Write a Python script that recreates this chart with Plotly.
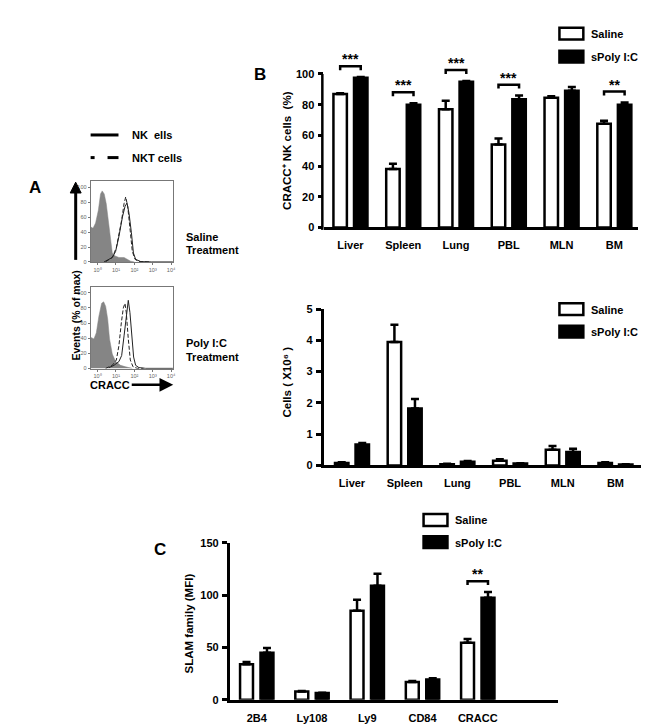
import plotly.graph_objects as go

W, H = 649, 727
FONT = "Liberation Sans, Arial, Helvetica, sans-serif"

# ---------------- data ----------------
organs = ["Liver", "Spleen", "Lung", "PBL", "MLN", "BM"]
cracc_pct_saline = [87, 38, 77, 54, 84.5, 67.5]
cracc_pct_saline_err = [0.5, 3.5, 5.5, 4, 1, 2]
cracc_pct_poly = [97.5, 80, 95, 83.5, 89, 80]
cracc_pct_poly_err = [0.5, 1, 0.5, 2.5, 2.5, 1.5]
cracc_pct_sig = ["***", "***", "***", "***", "", "**"]

cells_saline = [0.08, 3.95, 0.04, 0.15, 0.5, 0.08]
cells_saline_err = [0.02, 0.55, 0.01, 0.05, 0.12, 0.02]
cells_poly = [0.67, 1.82, 0.12, 0.06, 0.43, 0.03]
cells_poly_err = [0.05, 0.3, 0.02, 0.01, 0.1, 0.01]
cells_sig = ["", "", "", "", "", ""]

slam_receptors = ["2B4", "Ly108", "Ly9", "CD84", "CRACC"]
slam_saline = [34, 8, 85, 17, 54.5]
slam_saline_err = [2, 0.5, 10.5, 1, 3.5]
slam_poly = [45, 6.5, 109, 19.5, 97.5]
slam_poly_err = [4.5, 0.3, 11.5, 1, 5.5]
slam_sig = ["", "", "", "", "**"]

# flow histograms: x = log10 CRACC fluorescence, y = % of max
saline_iso_log10 = [-0.38, -0.25, -0.11, 0.04, 0.16, 0.25, 0.36, 0.47, 0.58, 0.69, 0.80, 0.95, 1.16, 1.44, 1.62, 1.80, 2.00]
saline_iso_pct = [47, 45, 52, 69, 91, 95, 91, 78, 56, 30, 12, 8, 6, 6, 3.5, 1, 0]
saline_nk_log10 = [0.35, 0.62, 0.80, 0.98, 1.16, 1.35, 1.49, 1.60, 1.71, 1.84, 1.95, 2.07, 2.35, 2.95, 4.1]
saline_nk_pct = [0, 3, 6, 14, 34, 60, 74, 79, 65, 39, 12, 3.5, 0.5, 0, 0]
saline_nkt_log10 = [0.44, 0.80, 1.02, 1.16, 1.31, 1.44, 1.53, 1.64, 1.76, 1.89, 2.04, 2.25, 2.9]
saline_nkt_pct = [0.4, 6, 19, 36, 56, 78, 87, 74, 43, 14, 3.5, 0.5, 0]

polyic_iso_log10 = [-0.38, -0.2, -0.07, 0.07, 0.22, 0.33, 0.44, 0.55, 0.65, 0.80, 0.98, 1.25, 1.53, 1.89]
polyic_iso_pct = [41, 39, 47, 69, 86, 88, 82, 65, 39, 19, 9, 4, 2, 0]
polyic_nk_log10 = [0.62, 0.89, 1.16, 1.31, 1.44, 1.53, 1.62, 1.67, 1.76, 1.85, 1.96, 2.07, 2.25, 2.62, 4.1]
polyic_nk_pct = [1, 4, 9, 17, 43, 65, 86, 90, 74, 43, 15, 4, 1, 0, 0]
polyic_nkt_log10 = [0.44, 0.80, 1.02, 1.16, 1.29, 1.40, 1.49, 1.56, 1.67, 1.78, 1.93, 2.16, 2.5]
polyic_nkt_pct = [0, 4, 11, 30, 60, 80, 86, 74, 39, 11, 2, 0, 0]

hist_tick_vals = [0, 1, 2, 3, 4]
hist_tick_text = ["10\u2070", "10\u00b9", "10\u00b2", "10\u00b3", "10\u2074"]
hist_pct_ticks = [0, 20, 40, 60, 80, 100]

# ---------------- helpers ----------------
def fx(p):
    return p / W


def fy(p):
    return 1 - p / H


LW = 2.5
TICKFONT = dict(family=FONT, size=11, color="black", weight="bold")
HTICKFONT = dict(family=FONT, size=5.5, color="#666")

fig = go.Figure()


def bar_panel(n, cats, sal, sal_err, pol, pol_err, sig, half_sep, bw, px_per_unit):
    xa = "x" if n == 1 else f"x{n}"
    ya = "y" if n == 1 else f"y{n}"
    xs = list(range(len(cats)))
    for vals, errs, fill, off in ((sal, sal_err, "white", -half_sep),
                                  (pol, pol_err, "black", half_sep)):
        fig.add_trace(go.Bar(
            x=xs, y=vals, width=bw, offset=off - bw / 2,
            marker=dict(color=fill, line=dict(color="black", width=LW)),
            error_y=dict(type="data", symmetric=False, array=errs,
                         arrayminus=[0] * len(xs), color="black",
                         thickness=LW, width=4),
            xaxis=xa, yaxis=ya, showlegend=False, hoverinfo="skip"))
    gap = 11 / px_per_unit
    leg = 4 / px_per_unit
    for i, s in enumerate(sig):
        if not s:
            continue
        top = max(sal[i] + sal_err[i], pol[i] + pol_err[i]) + gap
        x1, x2 = i - half_sep, i + half_sep
        fig.add_shape(type="path",
                      path=f"M {x1},{top - leg} L {x1},{top} L {x2},{top} L {x2},{top - leg}",
                      xref=xa, yref=ya, line=dict(color="black", width=LW))
        fig.add_annotation(x=i, y=top, xref=xa, yref=ya, text=s,
                           showarrow=False, yanchor="bottom", yshift=-3,
                           font=dict(family=FONT, size=14, color="black", weight="bold"))


# Panel B top: y=0 at px 217, y=100 at px 61
b1_ppu = (217 - 61) / 100
b1_top = 217 - 117 * b1_ppu
bar_panel(1, organs, cracc_pct_saline, cracc_pct_saline_err, cracc_pct_poly,
          cracc_pct_poly_err, cracc_pct_sig, 0.195, 0.255, b1_ppu)
# Panel B bottom: 0 at 459, 5 at 300
b2_ppu = (459 - 300) / 5
bar_panel(2, organs, cells_saline, cells_saline_err, cells_poly, cells_poly_err,
          cells_sig, 0.195, 0.255, b2_ppu)
# Panel C: 0 at 697.3, 150 at 537.7
c_ppu = (697.3 - 537.7) / 150
bar_panel(3, slam_receptors, slam_saline, slam_saline_err, slam_poly, slam_poly_err,
          slam_sig, 0.185, 0.234, c_ppu)

# y-axis line of panel B top (only up to 100)
fig.add_shape(type="line", xref="paper", yref="y", x0=fx(315.8), x1=fx(315.8),
              y0=0, y1=100, line=dict(color="black", width=LW))
fig.add_shape(type="rect", xref="paper", yref="paper", x0=fx(314.5), x1=fx(317),
              y0=fy(219.5), y1=fy(216.5), line=dict(width=0), fillcolor="black")

# histograms
for n, (iso_x, iso_y, nk_x, nk_y, nkt_x, nkt_y) in (
        (4, (saline_iso_log10, saline_iso_pct, saline_nk_log10, saline_nk_pct,
             saline_nkt_log10, saline_nkt_pct)),
        (5, (polyic_iso_log10, polyic_iso_pct, polyic_nk_log10, polyic_nk_pct,
             polyic_nkt_log10, polyic_nkt_pct))):
    xa, ya = f"x{n}", f"y{n}"
    fig.add_trace(go.Scatter(x=iso_x, y=iso_y, mode="lines", fill="tozeroy",
                             fillcolor="#858585", line=dict(color="#858585", width=0.5),
                             xaxis=xa, yaxis=ya, showlegend=False, hoverinfo="skip"))
    fig.add_trace(go.Scatter(x=nkt_x, y=nkt_y, mode="lines",
                             line=dict(color="#222", width=1, dash="4px,2px"),
                             xaxis=xa, yaxis=ya, showlegend=False, hoverinfo="skip"))
    fig.add_trace(go.Scatter(x=nk_x, y=nk_y, mode="lines",
                             line=dict(color="#222", width=1),
                             xaxis=xa, yaxis=ya, showlegend=False, hoverinfo="skip"))


def bar_xaxis(dom, rng, cats, ya):
    return dict(domain=[fx(dom[0]), fx(dom[1])], range=rng, anchor=ya,
                showline=True, linewidth=LW, linecolor="black",
                tickvals=list(range(len(cats))), ticktext=cats, ticks="",
                tickfont=TICKFONT, ticklabelstandoff=6,
                showgrid=False, zeroline=False, fixedrange=True)


def bar_yaxis(top_px, bot_px, rng, tickvals, xa, showline=True):
    return dict(domain=[fy(bot_px), fy(top_px)], range=rng, anchor=xa,
                showline=showline, linewidth=LW, linecolor="black",
                tickvals=tickvals, ticks="outside", ticklen=5, tickwidth=LW,
                tickcolor="black", tickfont=TICKFONT, ticklabelstandoff=1,
                showgrid=False, zeroline=False, fixedrange=True)


def hist_xaxis(ya):
    return dict(domain=[fx(83), fx(165.7)], range=[-0.38, 4.1], anchor=ya,
                showline=True, mirror=True, linecolor="#777", linewidth=1,
                tickvals=hist_tick_vals, ticktext=hist_tick_text,
                ticks="outside", ticklen=2, tickwidth=0.8, tickcolor="#777",
                tickfont=HTICKFONT, ticklabelstandoff=0,
                showgrid=False, zeroline=False, fixedrange=True)


def hist_yaxis(top_px, bot_px, xa):
    return dict(domain=[fy(bot_px), fy(top_px)], range=[-0.5, 108], anchor=xa,
                showline=True, mirror=True, linecolor="#777", linewidth=1,
                tickvals=hist_pct_ticks,
                ticks="outside", ticklen=2, tickwidth=0.8, tickcolor="#777",
                tickfont=HTICKFONT, ticklabelstandoff=0,
                showgrid=False, zeroline=False, fixedrange=True)


fig.update_layout(
    width=W, height=H, autosize=False,
    margin=dict(l=0, r=0, t=0, b=0),
    paper_bgcolor="white", plot_bgcolor="rgba(0,0,0,0)",
    font=dict(family=FONT, color="black"),
    barmode="overlay",
    xaxis=bar_xaxis((317, 633), [-0.51, 5.45], organs, "y"),
    yaxis=bar_yaxis(b1_top, 217, [0, 117], [0, 20, 40, 60, 80, 100], "x", showline=False),
    xaxis2=bar_xaxis((317, 641), [-0.54, 5.58], organs, "y2"),
    yaxis2=bar_yaxis(300, 459, [0, 5], [0, 1, 2, 3, 4, 5], "x2"),
    xaxis3=bar_xaxis((222.7, 553), [-0.49, 5.46], slam_receptors, "y3"),
    yaxis3=bar_yaxis(537.7, 697.3, [0, 150], [0, 50, 100, 150], "x3"),
    xaxis4=hist_xaxis("y4"),
    yaxis4=hist_yaxis(170, 252.5, "x4"),
    xaxis5=hist_xaxis("y5"),
    yaxis5=hist_yaxis(277.3, 360.7, "x5"),
)


def text(x, y, s, size=11, xanchor="left", angle=0):
    fig.add_annotation(x=fx(x), y=fy(y), xref="paper", yref="paper", text=s,
                       showarrow=False, xanchor=xanchor, yanchor="middle",
                       textangle=angle,
                       font=dict(family=FONT, size=size, color="black", weight="bold"))


# panel letters
text(27.5, 176, "A", 17, "center")
text(253.5, 61.5, "B", 17, "center")
text(153, 544.5, "C", 17, "center")

# panel A legend
fig.add_shape(type="line", xref="paper", yref="paper", x0=fx(83), x1=fx(111),
              y0=fy(123), y1=fy(123), line=dict(color="black", width=3))
fig.add_shape(type="line", xref="paper", yref="paper", x0=fx(83), x1=fx(87),
              y0=fy(146), y1=fy(146), line=dict(color="black", width=3))
fig.add_shape(type="line", xref="paper", yref="paper", x0=fx(100), x1=fx(111),
              y0=fy(146), y1=fy(146), line=dict(color="black", width=3))
text(123, 123, "NK\u00a0\u00a0ells")
text(123, 146, "NKT cells")
text(176.5, 226.5, "Saline")
text(176.5, 240, "Treatment")
text(176.5, 335, "Poly I:C")
text(176.5, 348.5, "Treatment")
text(68, 307, "Events (% of max)", 10.5, "center", -90)

# vertical "events" arrow of panel A (shaft + head)
fig.add_shape(type="line", xref="paper", yref="paper", x0=fx(68), x1=fx(68),
              y0=fy(250), y1=fy(180), line=dict(color="black", width=3))
fig.add_shape(type="path", xref="paper", yref="paper",
              path=f"M {fx(62.5)},{fy(182)} L {fx(68)},{fy(171)} L {fx(73.5)},{fy(182)} Z",
              fillcolor="black", line=dict(color="black", width=1))
# horizontal CRACC arrow
fig.add_annotation(x=fx(166), y=fy(377), xref="paper", yref="paper",
                   text="CRACC", showarrow=True, ax=-63, ay=0,
                   arrowhead=2, arrowsize=1.1, arrowwidth=2.5, arrowcolor="black",
                   font=dict(family=FONT, size=11, color="black", weight="bold"))

# y-axis titles
text(281, 138.5, "CRACC\u207a NK cells\u00a0\u00a0(%)", 11.5, "center", -90)
text(280, 374, "Cells ( X10\u2076 )", 11.5, "center", -90)
text(182, 619.5, "SLAM family (MFI)", 11.5, "center", -90)


# bar legends
def legend(x0, y_sal, y_pol):
    for yc, fill, label in ((y_sal, "white", "Saline"), (y_pol, "black", "sPoly I:C")):
        fig.add_shape(type="rect", xref="paper", yref="paper",
                      x0=fx(x0), x1=fx(x0 + 24), y0=fy(yc + 6), y1=fy(yc - 6),
                      fillcolor=fill, line=dict(color="black", width=LW))
        text(x0 + 30, yc + 0.5, label)


legend(554, 20, 43.3)
legend(554, 300, 323)
legend(417.5, 514.5, 537)

fig.write_html("out.html")
